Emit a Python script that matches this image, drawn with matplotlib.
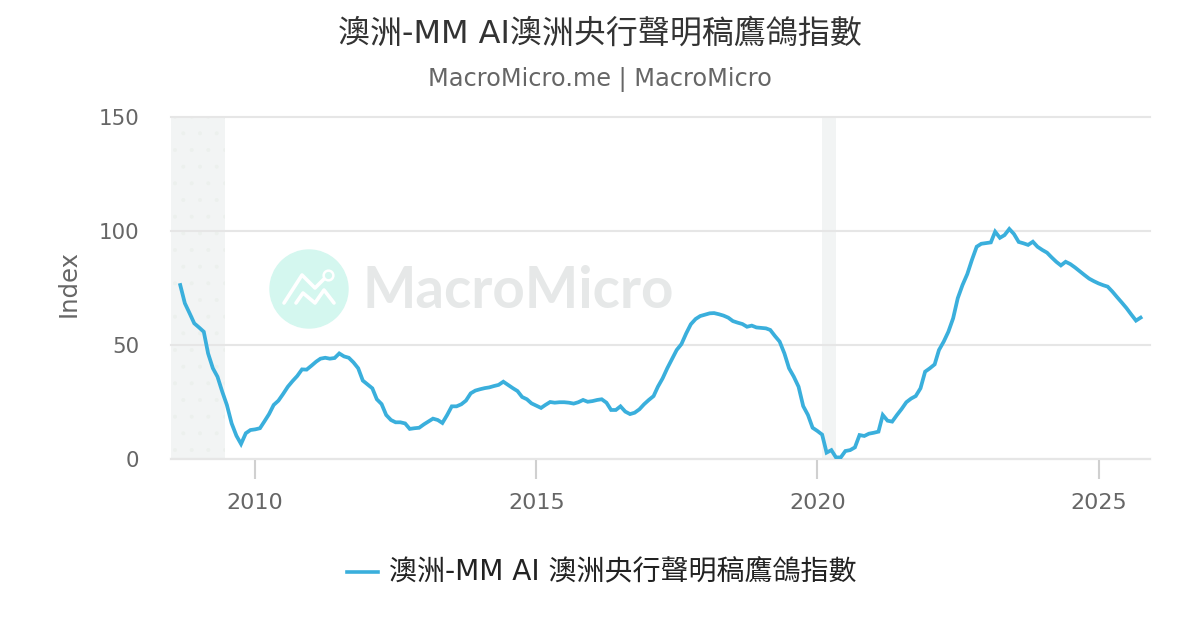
import pandas as pd
import matplotlib
matplotlib.use('Agg')
import matplotlib.pyplot as plt
import matplotlib.dates as mdates
from matplotlib.lines import Line2D
from matplotlib.patches import Circle

plt.rcParams['font.family'] = ['DejaVu Sans', 'Noto Sans CJK TC']
plt.rcParams['hatch.linewidth'] = 0.4

title = '澳洲-MM AI澳洲央行聲明稿鷹鴿指數'
subtitle = 'MacroMicro.me | MacroMicro'
series_name = '澳洲-MM AI 澳洲央行聲明稿鷹鴿指數'
start_month = '2008-09-01'

# monthly index values
index_values = [
    76.3, 68.3, 63.9, 59.5, 57.7, 55.8, 46.3, 39.8, 36.1, 29.5, 23.7, 15.6, 10.2, 6.6, 11.3, 12.7,
    13.0, 13.5, 16.4, 19.7, 23.7, 25.6, 28.5, 31.7, 34.2, 36.4, 39.3, 39.2,
    40.9, 42.7, 44.0, 44.4, 44.0, 44.3, 46.3, 45.0, 44.4, 42.4, 39.8, 34.4,
    32.7, 31.0, 26.2, 24.1, 19.3, 17.1, 16.1, 16.1, 15.6, 13.2, 13.5, 13.7,
    15.2, 16.5, 17.7, 17.1, 15.8, 19.3, 23.1, 23.1, 24.0, 25.6, 28.8, 30.0,
    30.6, 31.1, 31.4, 32.0, 32.5, 33.9, 32.5, 31.1, 29.8, 27.2, 26.2, 24.4,
    23.4, 22.4, 23.7, 25.0, 24.7, 24.9, 24.9, 24.7, 24.3, 24.9, 25.9, 25.1,
    25.4, 25.9, 26.2, 24.7, 21.5, 21.5, 23.1, 20.8, 19.7, 20.3, 21.8, 24.0,
    25.9, 27.6, 31.7, 35.4, 39.8, 43.9, 47.8, 50.4, 55.1, 59.1, 61.4, 62.7,
    63.3, 63.9, 64.0, 63.5, 62.9, 62.0, 60.5, 59.8, 59.2, 58.0, 58.5, 57.7,
    57.5, 57.3, 56.6, 53.9, 51.5, 46.3, 39.8, 36.1, 31.7, 23.2, 19.3, 13.7,
    12.3, 10.7, 2.8, 3.9, 0.7, 0.7, 3.5, 3.9, 5.1, 10.5, 10.1, 11.1,
    11.5, 12.0, 19.3, 16.8, 16.4, 19.3, 21.9, 24.9, 26.5, 27.6, 31.0, 38.3,
    39.8, 41.5, 47.8, 51.5, 55.8, 61.7, 70.5, 76.3, 81.1, 87.3, 93.1, 94.4,
    94.7, 95.0, 99.7, 97.0, 98.2, 100.9, 98.7, 95.2, 94.6, 93.9, 95.3, 93.1,
    91.7, 90.5, 88.5, 86.5, 84.9, 86.5, 85.5, 84.0, 82.3, 80.7, 79.1, 78.0,
    77.0, 76.2, 75.6, 73.4, 71.0, 68.6, 66.2, 63.4, 60.7, 62.0,
]
dates = pd.date_range(start_month, periods=len(index_values), freq='MS')

x_range = ['2008-07-03', '2025-12-01']
recessions = [('2008-07-03', '2009-06-17'), ('2020-01-28', '2020-05-01')]
year_ticks = [2010, 2015, 2020, 2025]
y_ticks = [0, 50, 100, 150]


def px(x, y):
    return x / 1200, 1 - y / 630


fig = plt.figure(figsize=(12, 6.3), dpi=100, facecolor='white')
ax = fig.add_axes([171 / 1200, 1 - 459 / 630, 979 / 1200, 342 / 630])
ax.patch.set_alpha(0)

# watermark
fig.add_artist(Circle((3.09, 6.3 - 2.89), 0.39, transform=fig.dpi_scale_trans, color='#d4f7ef', zorder=0))
logo_a = [(284, 303), (302, 275), (315, 288), (326, 277)]
logo_b = [(296, 303), (303, 293), (315, 303), (324, 290), (334, 303)]
for pts in (logo_a, logo_b):
    xy = [px(*p) for p in pts]
    fig.add_artist(Line2D([p[0] for p in xy], [p[1] for p in xy], color='white', lw=2.6,
                          transform=fig.transFigure, zorder=1, solid_capstyle='round'))
fig.add_artist(Line2D([px(328, 0)[0]], [px(0, 275)[1]], marker='o', ms=7, mfc='#d4f7ef', mec='white',
                      mew=1.8, transform=fig.transFigure, zorder=2))
fig.text(*px(362, 292), 'MacroMicro', family='Lato', weight='bold', fontsize=40.7, color='#e6e8e8',
         ha='left', va='center', zorder=1)

for start, end in recessions:
    ax.axvspan(pd.Timestamp(start), pd.Timestamp(end), facecolor='#f2f4f4', edgecolor='none', zorder=1)
ax.axvspan(pd.Timestamp(recessions[0][0]), pd.Timestamp(recessions[0][1]), facecolor='none',
           edgecolor='#ecf0ed', hatch='.', lw=0, zorder=1)

ax.plot(dates, index_values, color='#3aafdc', lw=2.7, zorder=3, solid_joinstyle='miter')

ax.set_xlim(pd.Timestamp(x_range[0]), pd.Timestamp(x_range[1]))
ax.set_ylim(0, 150)
ax.set_yticks(y_ticks)
ax.set_xticks([pd.Timestamp(f'{y}-01-01') for y in year_ticks])
ax.xaxis.set_major_formatter(mdates.DateFormatter('%Y'))
ax.grid(True, axis='y', color='#e6e6e6', lw=1.5, zorder=2, clip_on=False)
ax.set_axisbelow(False)
for s in ['top', 'right', 'left']:
    ax.spines[s].set_visible(False)
ax.spines['bottom'].set_color('#d0d0d0')
ax.spines['bottom'].set_linewidth(1.5)
ax.spines['bottom'].set_zorder(2.5)
ax.tick_params(axis='y', length=0, labelsize=15.4, labelcolor='#666666', pad=23)
ax.tick_params(axis='x', length=14.5, width=1.5, color='#d0d0d0', labelsize=16, labelcolor='#666666', pad=10)
ax.set_ylabel('Index', fontsize=17.5, color='#666666')
ax.yaxis.set_label_coords((81 - 171) / 979, 0.512)

fig.text(*px(600, 34), title, ha='center', va='center', fontsize=23, color='#333333')
fig.text(*px(600, 80), subtitle, ha='center', va='center', fontsize=17.3, color='#666666')

fig.add_artist(Line2D([px(347, 0)[0], px(378, 0)[0]], [px(0, 572)[1]] * 2, color='#3aafdc', lw=2.6,
                      transform=fig.transFigure))
fig.text(*px(389, 571), series_name, ha='left', va='center', fontsize=20.2, color='#222222')

fig.savefig('out.png', dpi=100)
